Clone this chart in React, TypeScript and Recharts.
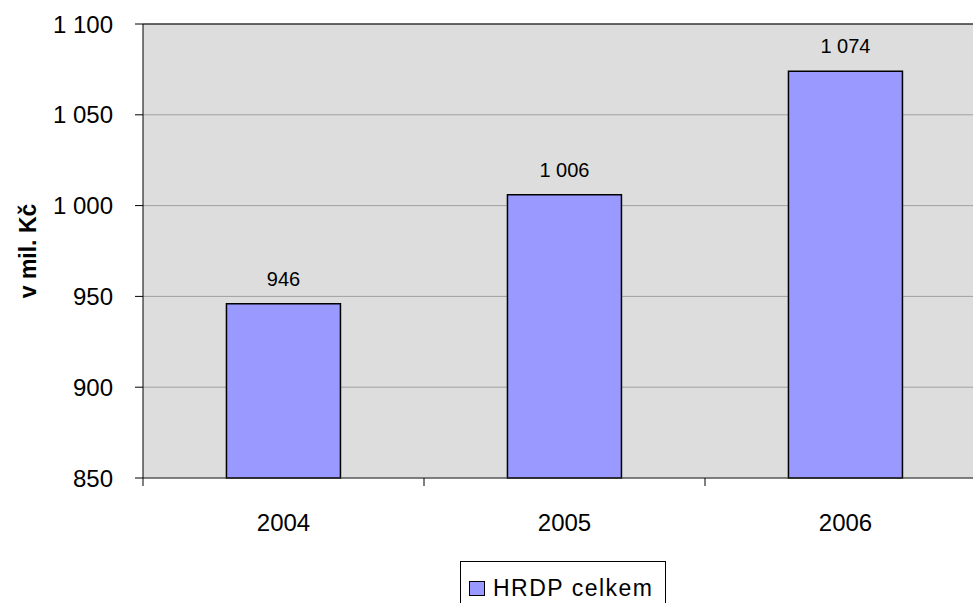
import React from 'react';
import { BarChart, Bar, XAxis, YAxis, CartesianGrid, LabelList, Legend, ReferenceLine } from 'recharts';

const years = ['2004', '2005', '2006'];
const hrdpTotal = [946, 1006, 1074];
const yTicks = [850, 900, 950, 1000, 1050, 1100];
const boundaryTicks = [0, 1, 2, 3];

const data = years.map((year, i) => ({ year, slot: i, value: hrdpTotal[i] }));

const FONT = '"Liberation Sans", Arial, sans-serif';

const fmt = (v: number | string) => String(v).replace(/\B(?=(\d{3})+(?!\d))/g, ' ');

const AxisTitle = (props: any) => {
  const { viewBox } = props;
  const cx = viewBox.x + 28;
  const cy = viewBox.y + viewBox.height / 2;
  return (
    <text
      x={cx}
      y={cy}
      transform={`rotate(-90, ${cx}, ${cy})`}
      textAnchor="middle"
      dominantBaseline="central"
      fontFamily={FONT}
      fontSize={23}
      fontWeight="bold"
      fill="#000"
    >
      v mil. Kč
    </text>
  );
};

const LegendBox = (props: any) => {
  const { payload } = props;
  return (
    <div
      style={{
        border: '1px solid #000',
        background: '#fff',
        padding: '13px 8px 14px 8px',
        width: 188,
        display: 'flex',
        alignItems: 'center',
        fontFamily: FONT,
        fontSize: 23,
        letterSpacing: 1.5,
        color: '#000',
        whiteSpace: 'nowrap',
      }}
    >
      {(payload || []).map((p: any) => (
        <span key={p.value} style={{ display: 'flex', alignItems: 'center' }}>
          <span
            style={{
              display: 'inline-block',
              width: 14,
              height: 13,
              background: '#9999FF',
              border: '1px solid #000',
              marginRight: 8,
            }}
          />
          {p.value}
        </span>
      ))}
    </div>
  );
};

export default function App() {
  return (
    <div style={{ position: 'absolute', left: 0, top: 0, width: 973, height: 603, overflow: 'hidden', background: '#fff' }}>
      <BarChart
        width={1000}
        height={603}
        data={data}
        margin={{ top: 24, right: 14, left: 0, bottom: 0 }}
        barCategoryGap="29.7%"
      >
        <CartesianGrid xAxisId="b" fill="#DDDDDD" stroke="#A0A0A0" vertical={false} />
        <XAxis
          xAxisId="a"
          type="number"
          dataKey="slot"
          domain={[0, 3]}
          ticks={boundaryTicks}
          interval={0}
          height={1}
          tickSize={8}
          tickFormatter={() => ''}
          axisLine={{ stroke: '#333' }}
          tickLine={{ stroke: '#000' }}
          allowDataOverflow
        />
        <XAxis
          xAxisId="b"
          dataKey="year"
          height={124}
          axisLine={false}
          tickLine={false}
          tickMargin={29}
          tick={{ fill: '#000', fontSize: 24, fontFamily: FONT }}
        />
        <YAxis
          width={143}
          domain={[850, 1100]}
          ticks={yTicks}
          interval={0}
          tickSize={8}
          tickMargin={22}
          tickFormatter={fmt}
          axisLine={{ stroke: '#000' }}
          tickLine={{ stroke: '#000' }}
          tick={{ fill: '#000', fontSize: 24, fontFamily: FONT }}
          label={{ content: AxisTitle }}
        />
        <ReferenceLine y={1100} xAxisId="b" stroke="#000" />
        <Legend
          layout="horizontal"
          verticalAlign="middle"
          align="center"
          content={LegendBox}
          wrapperStyle={{ left: 460, top: 561, width: 'auto' }}
        />
        <Bar
          xAxisId="b"
          dataKey="value"
          name="HRDP celkem"
          fill="#9999FF"
          stroke="#000"
          strokeWidth={1.5}
          isAnimationActive={false}
        >
          <LabelList
            dataKey="value"
            position="top"
            offset={18}
            formatter={fmt}
            style={{ fill: '#000', fontSize: 20, fontFamily: FONT }}
          />
        </Bar>
      </BarChart>
    </div>
  );
}
